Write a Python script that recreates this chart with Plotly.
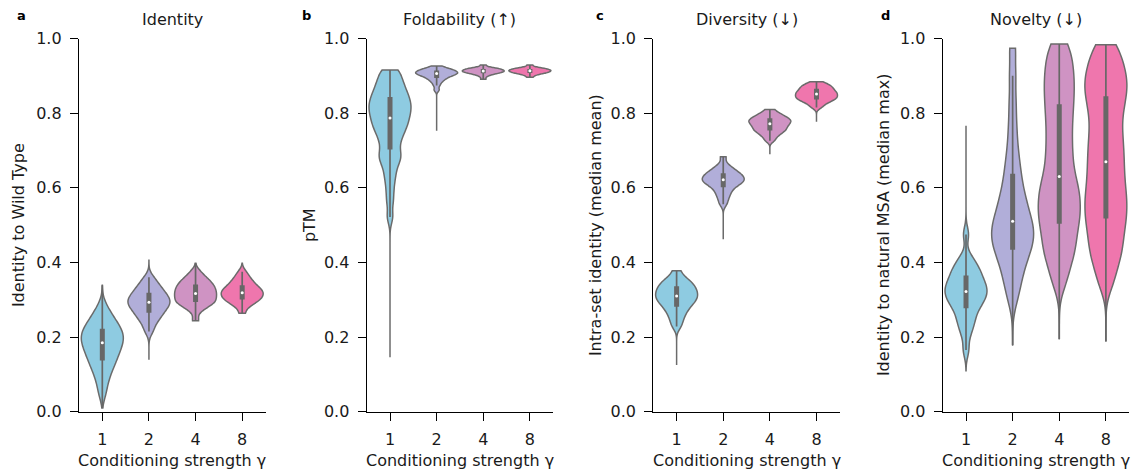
import numpy as np
import plotly.graph_objects as go

# ---------------- data ----------------
gamma = ['1', '2', '4', '8']

# body samples of each violin (the isolated extreme values are listed separately below)
identity_g1 = [0.050, 0.080, 0.100, 0.115, 0.127, 0.137, 0.146, 0.155, 0.163, 0.171, 0.178, 0.185,
               0.191, 0.197, 0.203, 0.209, 0.216, 0.222, 0.230, 0.238, 0.248, 0.260, 0.280]
identity_g2 = [0.215, 0.232, 0.244, 0.252, 0.259, 0.265, 0.271, 0.276, 0.281, 0.285, 0.289, 0.293,
               0.297, 0.301, 0.305, 0.309, 0.314, 0.319, 0.325, 0.331, 0.338, 0.347, 0.360]
identity_g4 = [0.244, 0.270, 0.280, 0.286, 0.290, 0.293, 0.296, 0.300, 0.304, 0.308, 0.312, 0.315, 0.319,
               0.322, 0.326, 0.330, 0.334, 0.338, 0.342, 0.346, 0.351, 0.357, 0.364, 0.375]
identity_g8 = [0.264, 0.281, 0.288, 0.293, 0.297, 0.300, 0.303, 0.306, 0.309, 0.312, 0.315, 0.318, 0.320,
               0.323, 0.326, 0.329, 0.332, 0.336, 0.340, 0.345, 0.350, 0.356, 0.364, 0.375]
identity_min = [0.010, 0.139, 0.244, 0.264]
identity_max = [0.339, 0.406, 0.398, 0.398]

ptm_g1 = [0.522, 0.563, 0.594, 0.621, 0.640, 0.659, 0.673, 0.680, 0.690, 0.699, 0.714, 0.725, 0.735,
          0.744, 0.752, 0.759, 0.766, 0.772, 0.778, 0.784, 0.790, 0.796, 0.802, 0.807, 0.812, 0.817, 0.823,
          0.828, 0.833, 0.839, 0.845, 0.851, 0.857, 0.864, 0.872, 0.880, 0.888, 0.898, 0.910, 0.9156]
ptm_g2 = [0.862, 0.874, 0.882, 0.887, 0.891, 0.894, 0.897, 0.899, 0.901, 0.903, 0.904, 0.906,
          0.907, 0.908, 0.909, 0.911, 0.912, 0.914, 0.915, 0.917, 0.919, 0.921, 0.926]
ptm_g4 = [0.891, 0.898, 0.902, 0.904, 0.906, 0.907, 0.908, 0.909, 0.910, 0.911, 0.912, 0.913, 0.913,
          0.914, 0.915, 0.916, 0.917, 0.918, 0.919, 0.920, 0.921, 0.923, 0.929]
ptm_g8 = [0.896, 0.901, 0.904, 0.906, 0.907, 0.908, 0.909, 0.910, 0.911, 0.912, 0.913, 0.914, 0.914,
          0.915, 0.916, 0.917, 0.918, 0.919, 0.920, 0.921, 0.923, 0.929]
ptm_min = [0.146, 0.753, 0.891, 0.896]
ptm_max = [0.9156, 0.926, 0.929, 0.929]

diversity_g1 = [0.228, 0.243, 0.255, 0.265, 0.273, 0.280, 0.286, 0.291, 0.296, 0.300, 0.304, 0.308,
                0.312, 0.316, 0.320, 0.324, 0.328, 0.333, 0.337, 0.342, 0.347, 0.353, 0.360, 0.378]
diversity_g2 = [0.556, 0.569, 0.579, 0.587, 0.594, 0.600, 0.605, 0.609, 0.612, 0.615, 0.618, 0.620,
                0.623, 0.625, 0.628, 0.631, 0.634, 0.637, 0.640, 0.644, 0.648, 0.654, 0.662, 0.683]
diversity_g4 = [0.726, 0.735, 0.741, 0.746, 0.750, 0.753, 0.756, 0.759, 0.762, 0.765, 0.768, 0.770,
                0.773, 0.775, 0.778, 0.780, 0.782, 0.784, 0.787, 0.790, 0.793, 0.797, 0.801, 0.810]
diversity_g8 = [0.815, 0.822, 0.827, 0.831, 0.834, 0.836, 0.839, 0.841, 0.843, 0.845, 0.847, 0.850,
                0.852, 0.854, 0.856, 0.858, 0.861, 0.864, 0.866, 0.869, 0.872, 0.875, 0.878, 0.884]
diversity_min = [0.125, 0.462, 0.690, 0.777]
diversity_max = [0.378, 0.683, 0.810, 0.884]

novelty_g1 = [0.165, 0.205, 0.226, 0.240, 0.252, 0.266, 0.277, 0.285, 0.292, 0.299, 0.305, 0.311,
              0.317, 0.322, 0.327, 0.332, 0.338, 0.344, 0.351, 0.358, 0.365, 0.373, 0.382, 0.390, 0.400,
              0.416, 0.475]
novelty_g2 = [0.300, 0.335, 0.360, 0.380, 0.400, 0.415, 0.428, 0.440, 0.450, 0.460, 0.470, 0.480,
              0.490, 0.500, 0.510, 0.520, 0.535, 0.550, 0.565, 0.580, 0.600, 0.625, 0.650, 0.680, 0.720,
              0.770, 0.830, 0.900, 0.974]
novelty_g4 = [0.345, 0.385, 0.413, 0.434, 0.454, 0.475, 0.495, 0.512, 0.528, 0.544, 0.560, 0.577,
              0.594, 0.610, 0.630, 0.655, 0.680, 0.706, 0.733, 0.760, 0.787, 0.812, 0.836, 0.860, 0.882,
              0.905, 0.930, 0.955, 0.985]
novelty_g8 = [0.345, 0.388, 0.417, 0.440, 0.464, 0.487, 0.508, 0.527, 0.546, 0.565, 0.584, 0.604,
              0.626, 0.648, 0.670, 0.692, 0.715, 0.738, 0.762, 0.790, 0.812, 0.835, 0.855, 0.872, 0.890,
              0.910, 0.930, 0.955, 0.983]
novelty_min = [0.110, 0.179, 0.194, 0.188]
novelty_max = [0.766, 0.974, 0.985, 0.983]

# KDE bandwidths per violin
bw_identity = [0.022, 0.013, 0.011, 0.010]
bw_ptm = [0.018, 0.005, 0.003, 0.003]
bw_diversity = [0.012, 0.009, 0.006, 0.006]
bw_novelty = [0.020, 0.035, 0.035, 0.035]

panel_letters = ['a', 'b', 'c', 'd']
panel_titles = ['Identity', 'Foldability (↑)', 'Diversity (↓)', 'Novelty (↓)']
y_titles = ['Identity to Wild Type', 'pTM', 'Intra-set identity (median mean)',
            'Identity to natural MSA (median max)']
x_title = 'Conditioning strength γ'
y_ticks = [0.0, 0.2, 0.4, 0.6, 0.8, 1.0]

panels = [
    [identity_g1, identity_g2, identity_g4, identity_g8],
    [ptm_g1, ptm_g2, ptm_g4, ptm_g8],
    [diversity_g1, diversity_g2, diversity_g4, diversity_g8],
    [novelty_g1, novelty_g2, novelty_g4, novelty_g8],
]
mins = [identity_min, ptm_min, diversity_min, novelty_min]
maxs = [identity_max, ptm_max, diversity_max, novelty_max]
bandwidths = [bw_identity, bw_ptm, bw_diversity, bw_novelty]

# ---------------- style ----------------
W, H = 1138, 473
colors = ['#8ecbe1', '#b1aed9', '#cf93c3', '#ef76ad']
OUT = '#6b6b6b'
BOX = '#676767'
FONT = 'DejaVu Sans'
TXT = '#1a1a1a'
FS = 16

ax_left = [79.0, 366.7, 653.3, 942.7]
pw = 186.5
y_top_px, y_bot_px = 38.5, 411.7
letter_x = [21, 306, 600, 885]
ytitle_x = [18, 309, 595, 883]

fig = go.Figure()

for p in range(4):
    xa = 'x' if p == 0 else f'x{p + 1}'
    ya = 'y' if p == 0 else f'y{p + 1}'
    for g in range(4):
        vals = panels[p][g]
        lo_v, hi_v = mins[p][g], maxs[p][g]
        fig.add_trace(go.Violin(
            x=[gamma[g]] * len(vals), y=vals, xaxis=xa, yaxis=ya,
            fillcolor=colors[g], line=dict(color=OUT, width=1.5),
            spanmode='manual', span=[lo_v, hi_v], bandwidth=bandwidths[p][g], width=0.9,
            points=False, box_visible=False, meanline_visible=False,
            showlegend=False, hoverinfo='skip', opacity=1))
        full = np.array(vals + [lo_v, hi_v])
        q1, med, q3 = np.percentile(full, [25, 50, 75])
        iqr = q3 - q1
        lo = full[full >= q1 - 1.5 * iqr].min()
        hi = full[full <= q3 + 1.5 * iqr].max()
        fig.add_trace(go.Scatter(x=[gamma[g]] * 2, y=[lo, hi], mode='lines', xaxis=xa, yaxis=ya,
                                 line=dict(color=BOX, width=1.7), showlegend=False, hoverinfo='skip'))
        fig.add_trace(go.Scatter(x=[gamma[g]] * 2, y=[q1, q3], mode='lines', xaxis=xa, yaxis=ya,
                                 line=dict(color=BOX, width=5), showlegend=False, hoverinfo='skip'))
        fig.add_trace(go.Scatter(x=[gamma[g]], y=[med], mode='markers', xaxis=xa, yaxis=ya,
                                 marker=dict(color='white', size=3, line=dict(width=0)),
                                 showlegend=False, hoverinfo='skip'))

layout = dict(
    template='none',
    width=W, height=H, autosize=False, margin=dict(l=0, r=0, t=0, b=0, pad=0, autoexpand=False),
    paper_bgcolor='white', plot_bgcolor='white',
    violinmode='overlay', showlegend=False,
    font=dict(family=FONT, size=FS, color=TXT),
)
annotations = []
ydom = [(H - y_bot_px) / H, (H - y_top_px) / H]
for p in range(4):
    sfx = '' if p == 0 else str(p + 1)
    x0 = ax_left[p] / W
    x1 = (ax_left[p] + pw) / W
    common = dict(showline=True, linecolor='black', linewidth=1.3,
                  ticks='outside', ticklen=8, tickwidth=1.3, tickcolor='black',
                  ticklabelstandoff=5, automargin=False,
                  tickfont=dict(family=FONT, size=FS, color=TXT),
                  showgrid=False, zeroline=False, fixedrange=True, mirror=False)
    layout['xaxis' + sfx] = dict(
        domain=[x0, x1], anchor='y' + sfx, type='category',
        categoryorder='array', categoryarray=gamma, range=[-0.5, 3.5], **common)
    layout['yaxis' + sfx] = dict(
        domain=ydom, anchor='x' + sfx, range=[0, 1],
        tickvals=y_ticks, ticktext=[f'{v:.1f}' for v in y_ticks], **common)
    cx = (ax_left[p] + pw / 2) / W
    annotations.append(dict(text=panel_titles[p], x=cx, y=(H - 19) / H, xref='paper', yref='paper',
                            xanchor='center', yanchor='middle', showarrow=False,
                            font=dict(family=FONT, size=FS, color=TXT)))
    annotations.append(dict(text=f'<b>{panel_letters[p]}</b>', x=letter_x[p] / W, y=(H - 15) / H,
                            xref='paper', yref='paper', xanchor='center', yanchor='middle',
                            showarrow=False, font=dict(family=FONT, size=13, color='black')))
    annotations.append(dict(text=x_title, x=cx, y=(H - 460) / H, xref='paper', yref='paper',
                            xanchor='center', yanchor='middle', showarrow=False,
                            font=dict(family=FONT, size=FS, color=TXT)))
    annotations.append(dict(text=y_titles[p], x=ytitle_x[p] / W,
                            y=(H - (y_top_px + y_bot_px) / 2) / H, xref='paper', yref='paper',
                            xanchor='center', yanchor='middle', textangle=-90, showarrow=False,
                            font=dict(family=FONT, size=FS, color=TXT)))
layout['annotations'] = annotations
fig.update_layout(**layout)

fig.write_html('out.html')
